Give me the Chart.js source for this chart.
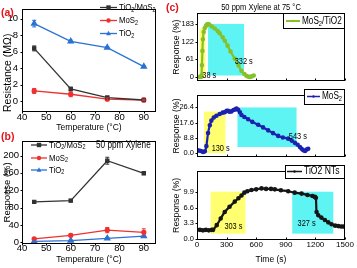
<!DOCTYPE html>
<html><head><meta charset="utf-8">
<script src="https://cdn.jsdelivr.net/npm/chart.js@4.4.1/dist/chart.umd.min.js"></script>
<style>
html,body{margin:0;padding:0;background:#fff;width:357px;height:268px;overflow:hidden;position:relative}
.c{position:absolute}
.lbl{position:absolute;color:#e3141c;font:bold 10.5px "Liberation Sans",Arial,sans-serif;line-height:1}
</style></head><body>
<div class="c" style="left:0;top:0;width:175px;height:135px"><canvas id="ca"></canvas></div>
<div class="c" style="left:0;top:133px;width:175px;height:135px"><canvas id="cb"></canvas></div>
<div class="c" style="left:170px;top:0;width:187px;height:88px"><canvas id="c1"></canvas></div>
<div class="c" style="left:170px;top:88px;width:187px;height:76px"><canvas id="c2"></canvas></div>
<div class="c" style="left:170px;top:164px;width:187px;height:104px"><canvas id="c3"></canvas></div>
<div class="lbl" style="left:1px;top:7px">(a)</div>
<div class="lbl" style="left:1px;top:131px">(b)</div>
<div class="lbl" style="left:166px;top:2px">(c)</div>
<script>
// ---------------- data ----------------
const tempCats = [45, 60, 75, 90];
const resHybrid = [6.4, 1.5, 0.45, 0.15];
const resMoS2 = [1.25, 0.85, 0.25, 0.15];
const resTiO2 = [9.4, 7.25, 6.5, 4.2];
const resHybridErr = [0.3, 0.2, 0.1, 0.05];
const resMoS2Err = [0.3, 0.3, 0.15, 0.1];
const resTiO2Err = [0.4, 0.15, 0.1, 0.1];

const respHybrid = [93, 96, 188, 159];
const respMoS2 = [8, 16, 28, 23];
const respTiO2 = [2, 4, 9, 14];
const respHybridErr = [2, 3, 8, 3];
const respMoS2Err = [2, 3, 6, 8];
const respTiO2Err = [1, 1, 2, 2];

const tempTicks = [40, 50, 60, 70, 80, 90];
const resTicks = [0, 2, 4, 6, 8, 10];
const respTicks = [0, 40, 80, 120, 160, 200];
const timeTicks = [0, 300, 600, 900, 1200, 1500];
const hybTicks = [0, 61, 122, 183];
const hybTickLabels = ['0', '61', '122', '183'];
const mosTicks = [0, 8.8, 17.6, 26.4];
const mosTickLabels = ['0.0', '8.8', '17.6', '26.4'];
const tioTicks = [0, 3.3, 6.6, 9.9];
const tioTickLabels = ['0.0', '3.3', '6.6', '9.9'];

const hybTime = [0, 20, 40, 45, 50, 55, 60, 68, 78, 90, 100, 112, 125, 150, 180, 210, 230, 260, 282, 310, 340, 383, 420, 450, 480, 500, 520, 535, 555, 575];
const hybResp = [0, 0, 0, 5, 40, 90, 130, 155, 168, 176, 181, 183, 181, 174, 167, 158, 151, 137, 125, 108, 88, 63, 40, 21, 10, 4, 1, 0, 2, 5];

const mosTime = [0, 20, 40, 61, 80, 95, 112, 130, 146, 170, 197, 230, 260, 281, 300, 315, 330, 349, 370, 390, 400, 417, 435, 451, 480, 518, 560, 620, 670, 721, 770, 823, 870, 924, 960, 992, 1020, 1043, 1060, 1077, 1095, 1111, 1127];
const mosResp = [1.6, 1.5, 1.2, 0.6, 1.0, 4, 11.5, 16, 18.7, 20.5, 21.5, 22.5, 23.3, 23.5, 24.3, 24.3, 23.8, 24, 24.8, 25.2, 25.6, 25, 23.5, 21.9, 20.8, 19.5, 18, 16.3, 14.8, 13.1, 11.5, 9.9, 9, 8.3, 7.2, 5.9, 4.8, 3.5, 2.5, 1.6, 1.2, 2, 2.5];

const tioTime = [0, 30, 60, 90, 120, 150, 163, 200, 240, 281, 330, 383, 420, 451, 480, 510, 552, 600, 654, 700, 750, 789, 850, 924, 990, 1060, 1120, 1170, 1195, 1205, 1212, 1229, 1260, 1296, 1330, 1364, 1400, 1432, 1460, 1483];
const tioResp = [1.9, 1.9, 1.8, 1.9, 1.8, 1.9, 1.9, 2.9, 4.3, 5.7, 6.8, 7.9, 8.6, 9.2, 9.8, 10.1, 10.35, 10.5, 10.7, 10.6, 10.6, 10.5, 10.3, 10.1, 9.8, 9.6, 9.3, 9.1, 8.9, 8.7, 5.7, 5.0, 4.5, 4.0, 3.5, 3.1, 2.8, 2.7, 2.6, 2.6];

// shaded windows [t0, t1, y0, y1]
const hybWindows = [[27, 85, 0, 167], [112, 477, 5, 183]];
const mosWindows = [[71, 288, 0, 23.9], [410, 1009, 3.5, 26.3]];
const tioWindows = [[139, 491, 1.1, 10.0], [965, 1381, 1.1, 10.0]];
// annotation text [t, y, text]
const hybNotes = [[125, 5, '38 s'], [474, 55, '332 s']];
const mosNotes = [[240, 2.4, '130 s'], [1022, 9.6, '543 s']];
const tioNotes = [[369, 2.7, '303 s'], [1111, 3.2, '327 s']];

// ---------------- helpers ----------------
const FF = '"Liberation Sans",Arial,sans-serif';
const SX = 0.82; // horizontal condensing of free text
Chart.defaults.font.family = FF;
Chart.defaults.color = '#000';
Chart.defaults.animation = false;
const YEL = '#ffff70', CYA = '#5ff4f4';

function pts(xs, ys) { return xs.map((x, i) => ({ x: x, y: ys[i] })); }

function xAxis(c) {
  return {
    type: 'linear', position: 'bottom', min: c.min, max: c.max,
    afterBuildTicks: s => { s.ticks = c.ticks.map(v => ({ value: v })); },
    afterFit: s => { s.height = c.h; },
    grid: { display: false, drawTicks: false }, border: { display: false },
    ticks: { display: c.labels !== false, padding: c.pad || 0, autoSkip: false, maxRotation: 0, minRotation: 0,
      font: { size: c.fs || 10, lineHeight: 1 }, callback: v => String(v) },
    title: { display: !!c.title, text: c.title || '', font: { size: c.tfs || 10, lineHeight: 1.2 }, padding: { top: 0, bottom: c.tpad || 0 } }
  };
}
function yAxis(c) {
  return {
    type: 'linear', position: 'left', min: c.min, max: c.max,
    afterBuildTicks: s => { s.ticks = c.ticks.map(v => ({ value: v })); },
    afterFit: s => { s.width = c.w; },
    grid: { display: false, drawTicks: false }, border: { display: false },
    ticks: { padding: c.pad || 3, autoSkip: false, font: { size: c.fs || 10, lineHeight: 1 },
      callback: (v, i) => c.labels ? c.labels[i] : String(v) },
    title: { display: true, text: c.title, align: c.talign || 'center', font: { size: c.tfs || 10, lineHeight: 1.2 }, padding: { top: c.tpad || 0, bottom: 0 } }
  };
}
function marker(ctx, style, x, y, r, color) {
  ctx.save(); ctx.fillStyle = color; ctx.beginPath();
  if (style === 'rect') ctx.rect(x - r, y - r, 2 * r, 2 * r);
  else if (style === 'triangle') { ctx.moveTo(x, y - r * 1.2); ctx.lineTo(x + r * 1.1, y + r * 0.8); ctx.lineTo(x - r * 1.1, y + r * 0.8); ctx.closePath(); }
  else ctx.arc(x, y, r, 0, Math.PI * 2);
  ctx.fill(); ctx.restore();
}
function drawRich(ctx, str, x, y, size, align) {
  const parts = str.split(/(_.)/).filter(p => p);
  let w = 0;
  parts.forEach(p => {
    if (p[0] === '_' && p.length === 2) { ctx.font = (size * 0.7) + 'px ' + FF; w += ctx.measureText(p[1]).width; }
    else { ctx.font = size + 'px ' + FF; w += ctx.measureText(p).width; }
  });
  ctx.save();
  ctx.translate(x, y); ctx.scale(SX, 1);
  let cx = align === 'center' ? -w / 2 : 0;
  ctx.textBaseline = 'middle'; ctx.textAlign = 'left';
  parts.forEach(p => {
    if (p[0] === '_' && p.length === 2) { ctx.font = (size * 0.7) + 'px ' + FF; ctx.fillText(p[1], cx, size * 0.28); cx += ctx.measureText(p[1]).width; }
    else { ctx.font = size + 'px ' + FF; ctx.fillText(p, cx, 0); cx += ctx.measureText(p).width; }
  });
  ctx.restore();
}
function makeFrame(xTick, yTick) {
  return { id: 'frame', afterDatasetsDraw(chart) {
    const { ctx, chartArea: a } = chart; const x = chart.scales.x, y = chart.scales.y;
    ctx.save(); ctx.strokeStyle = '#000'; ctx.lineWidth = 1;
    const L = Math.round(a.left) + 0.5, R = Math.round(a.right) - 0.5, T = Math.round(a.top) + 0.5, B = Math.round(a.bottom) - 0.5;
    ctx.strokeRect(L, T, R - L, B - T);
    ctx.beginPath();
    x.ticks.forEach(t => { const p = Math.round(x.getPixelForValue(t.value)) + 0.5; ctx.moveTo(p, B); ctx.lineTo(p, B + xTick); });
    y.ticks.forEach(t => { const p = Math.round(y.getPixelForValue(t.value)) + 0.5; ctx.moveTo(L, p); ctx.lineTo(L - yTick, p); });
    ctx.stroke(); ctx.restore();
  } };
}
function makeErr(errs) {
  return { id: 'err', afterDatasetsDraw(chart) {
    const ctx = chart.ctx; ctx.save();
    chart.data.datasets.forEach((ds, di) => {
      const e = errs[di]; if (!e) return;
      ctx.strokeStyle = ds.borderColor; ctx.lineWidth = 1; ctx.beginPath();
      ds.data.forEach((p, i) => {
        const px = chart.scales.x.getPixelForValue(p.x);
        const y0 = chart.scales.y.getPixelForValue(p.y - e[i]), y1 = chart.scales.y.getPixelForValue(p.y + e[i]);
        ctx.moveTo(px, y0); ctx.lineTo(px, y1);
        ctx.moveTo(px - 2, y0); ctx.lineTo(px + 2, y0); ctx.moveTo(px - 2, y1); ctx.lineTo(px + 2, y1);
      });
      ctx.stroke();
    });
    ctx.restore();
  } };
}
function makeShade(rects, colors, notes) {
  return { id: 'shade',
    beforeDatasetsDraw(chart) {
      const ctx = chart.ctx, xs = chart.scales.x, ys = chart.scales.y; ctx.save();
      rects.forEach((r, i) => {
        const x0 = xs.getPixelForValue(r[0]), x1 = xs.getPixelForValue(r[1]);
        const y0 = ys.getPixelForValue(r[2]), y1 = ys.getPixelForValue(r[3]);
        ctx.fillStyle = colors[i]; ctx.fillRect(x0, y1, x1 - x0, y0 - y1);
      });
      ctx.restore();
    },
    afterDatasetsDraw(chart) {
      const ctx = chart.ctx, xs = chart.scales.x, ys = chart.scales.y; ctx.save(); ctx.fillStyle = '#000';
      notes.forEach(n => drawRich(ctx, n[2], xs.getPixelForValue(n[0]), ys.getPixelForValue(n[1]), 9, 'center'));
      ctx.restore();
    } };
}
function makeLegend(items, box, texts) {
  return { id: 'lg', afterDraw(chart) {
    const ctx = chart.ctx; ctx.save();
    if (box) { ctx.fillStyle = '#fff'; ctx.fillRect(box[0], box[1], box[2], box[3]); ctx.strokeStyle = '#000'; ctx.lineWidth = 1; ctx.strokeRect(box[0] + 0.5, box[1] + 0.5, box[2] - 1, box[3] - 1); }
    items.forEach(it => {
      ctx.strokeStyle = it.color; ctx.lineWidth = it.lw || 1.3; ctx.beginPath(); ctx.moveTo(it.x, it.y); ctx.lineTo(it.x + it.len, it.y); ctx.stroke();
      if (it.style) marker(ctx, it.style, it.x + it.len / 2, it.y, it.r || 2.2, it.color);
      ctx.fillStyle = '#000'; drawRich(ctx, it.text, it.x + it.len + 2, it.y, it.fs || 9.5);
    });
    (texts || []).forEach(t => { ctx.fillStyle = '#000'; drawRich(ctx, t.text, t.x, t.y, t.fs, t.align); });
    ctx.restore();
  } };
}
const base = { responsive: true, maintainAspectRatio: false, devicePixelRatio: 1, animation: false, events: [] };

// ---------------- (a) ----------------
const cBlack = '#333333', cRed = '#f03030', cBlue = '#2a72d4';
new Chart(document.getElementById('ca'), {
  type: 'line',
  data: { datasets: [
    { label: 'TiO2/MoS2', data: pts(tempCats, resHybrid), borderColor: cBlack, backgroundColor: cBlack, pointStyle: 'rect', pointRadius: 2.2, borderWidth: 1.3 },
    { label: 'MoS2', data: pts(tempCats, resMoS2), borderColor: cRed, backgroundColor: cRed, pointStyle: 'circle', pointRadius: 2, borderWidth: 1.3 },
    { label: 'TiO2', data: pts(tempCats, resTiO2), borderColor: cBlue, backgroundColor: cBlue, pointStyle: 'triangle', pointRadius: 3, borderWidth: 1.3 }
  ] },
  options: Object.assign({}, base, {
    layout: { padding: { left: 0, top: 3, right: 19, bottom: 0 } },
    plugins: { legend: { display: false }, tooltip: { enabled: false } },
    scales: {
      x: xAxis({ min: 40, max: 95, ticks: tempTicks, h: 23, pad: 1, fs: 9.5, title: 'Temperature (°C)', tfs: 8.5, tpad: 2 }),
      y: yAxis({ min: -1.3, max: 11.2, ticks: resTicks, w: 22, pad: 4, fs: 9.5, title: 'Resistance (MΩ)', tfs: 10.5, tpad: 2, talign: 'start' })
    }
  }),
  plugins: [makeFrame(2, 2), makeErr([resHybridErr, resMoS2Err, resTiO2Err]), makeLegend([
    { text: 'TiO_2/MoS_2', color: cBlack, style: 'rect', x: 100, y: 7.5, len: 17 },
    { text: 'MoS_2', color: cRed, style: 'circle', x: 100, y: 20.5, len: 17 },
    { text: 'TiO_2', color: cBlue, style: 'triangle', x: 100, y: 33.5, len: 17 }
  ])]
});

// ---------------- (b) ----------------
new Chart(document.getElementById('cb'), {
  type: 'line',
  data: { datasets: [
    { label: 'TiO2/MoS2', data: pts(tempCats, respHybrid), borderColor: cBlack, backgroundColor: cBlack, pointStyle: 'rect', pointRadius: 2.2, borderWidth: 1.3 },
    { label: 'MoS2', data: pts(tempCats, respMoS2), borderColor: cRed, backgroundColor: cRed, pointStyle: 'circle', pointRadius: 2, borderWidth: 1.3 },
    { label: 'TiO2', data: pts(tempCats, respTiO2), borderColor: cBlue, backgroundColor: cBlue, pointStyle: 'triangle', pointRadius: 3, borderWidth: 1.3 }
  ] },
  options: Object.assign({}, base, {
    layout: { padding: { left: 0, top: 2, right: 19, bottom: 0 } },
    plugins: { legend: { display: false }, tooltip: { enabled: false } },
    scales: {
      x: xAxis({ min: 40, max: 95, ticks: tempTicks, h: 24, pad: 0, fs: 9.5, title: 'Temperature (°C)', tfs: 8.5, tpad: 3 }),
      y: yAxis({ min: -4, max: 234, ticks: respTicks, w: 22, pad: 3, fs: 9.5, title: 'Response (%)', tfs: 9.5, tpad: 2 })
    }
  }),
  plugins: [makeFrame(2, 2), makeErr([respHybridErr, respMoS2Err, respTiO2Err]), makeLegend([
    { text: 'TiO_2/MoS_2', color: cBlack, style: 'rect', x: 31, y: 12, len: 16 },
    { text: 'MoS_2', color: cRed, style: 'circle', x: 31, y: 25, len: 16 },
    { text: 'TiO_2', color: cBlue, style: 'triangle', x: 31, y: 37, len: 16 }
  ], null, [{ text: '50 ppm Xylene', x: 96, y: 12, fs: 10 }])]
});

// ---------------- (c) ----------------
const cGreen = '#86c12a', cNavy = '#1c22b0', cDark = '#151515';
function timeChart(id, time, resp, color, yc, xc, pad, shade, legend) {
  return new Chart(document.getElementById(id), {
    type: 'line',
    data: { datasets: [{ label: id, data: pts(time, resp), borderColor: color, backgroundColor: color, pointRadius: 1.2, pointStyle: 'circle', borderWidth: 2.2, tension: 0.25 }] },
    options: Object.assign({}, base, {
      layout: { padding: pad },
      plugins: { legend: { display: false }, tooltip: { enabled: false } },
      scales: { x: xAxis(xc), y: yAxis(yc) }
    }),
    plugins: [shade, makeFrame(-2, 2), legend]
  });
}
timeChart('c1', hybTime, hybResp, cGreen,
  { min: -14.8, max: 220.7, ticks: hybTicks, labels: hybTickLabels, w: 27, pad: 3, fs: 7.5, title: 'Response (%)', tfs: 8.7, tpad: 1 },
  { min: 0, max: 1500, ticks: timeTicks, h: 0, labels: false },
  { left: 0, top: 13, right: 12, bottom: 0 },
  makeShade(hybWindows, [YEL, CYA], hybNotes),
  makeLegend([{ text: 'MoS_2/TiO2', color: cGreen, style: 'circle', r: 1.2, lw: 2, x: 116, y: 21, len: 14, fs: 10 }],
    [113, 13, 62, 16], [{ text: '50 ppm Xylene at 75 °C', x: 91, y: 7, fs: 9.2, align: 'center' }]));
timeChart('c2', mosTime, mosResp, cNavy,
  { min: -2.4, max: 33.6, ticks: mosTicks, labels: mosTickLabels, w: 27, pad: 3, fs: 7.5, title: 'Response (%)', tfs: 8.7, tpad: 1 },
  { min: 0, max: 1500, ticks: timeTicks, h: 0, labels: false },
  { left: 0, top: 1, right: 12, bottom: 0 },
  makeShade(mosWindows, [YEL, CYA], mosNotes),
  makeLegend([{ text: 'MoS_2', color: cNavy, style: 'circle', r: 1.2, lw: 1.5, x: 137, y: 8.5, len: 13, fs: 10 }],
    [134, 1, 41, 16]));
timeChart('c3', tioTime, tioResp, cDark,
  { min: -0.25, max: 14.45, ticks: tioTicks, labels: tioTickLabels, w: 27, pad: 3, fs: 7.5, title: 'Response (%)', tfs: 8.7, tpad: 1 },
  { min: 0, max: 1500, ticks: timeTicks, h: 28, pad: 1, fs: 8, title: 'Time (s)', tfs: 8.5, tpad: 3 },
  { left: 0, top: 1, right: 12, bottom: 0 },
  makeShade(tioWindows, [YEL, CYA], tioNotes),
  makeLegend([{ text: 'TiO2 NTs', color: cDark, style: 'circle', r: 1.2, lw: 1.5, x: 117, y: 7.5, len: 15, fs: 10.5 }],
    [115, 1, 60, 14]));
</script>
</body></html>
